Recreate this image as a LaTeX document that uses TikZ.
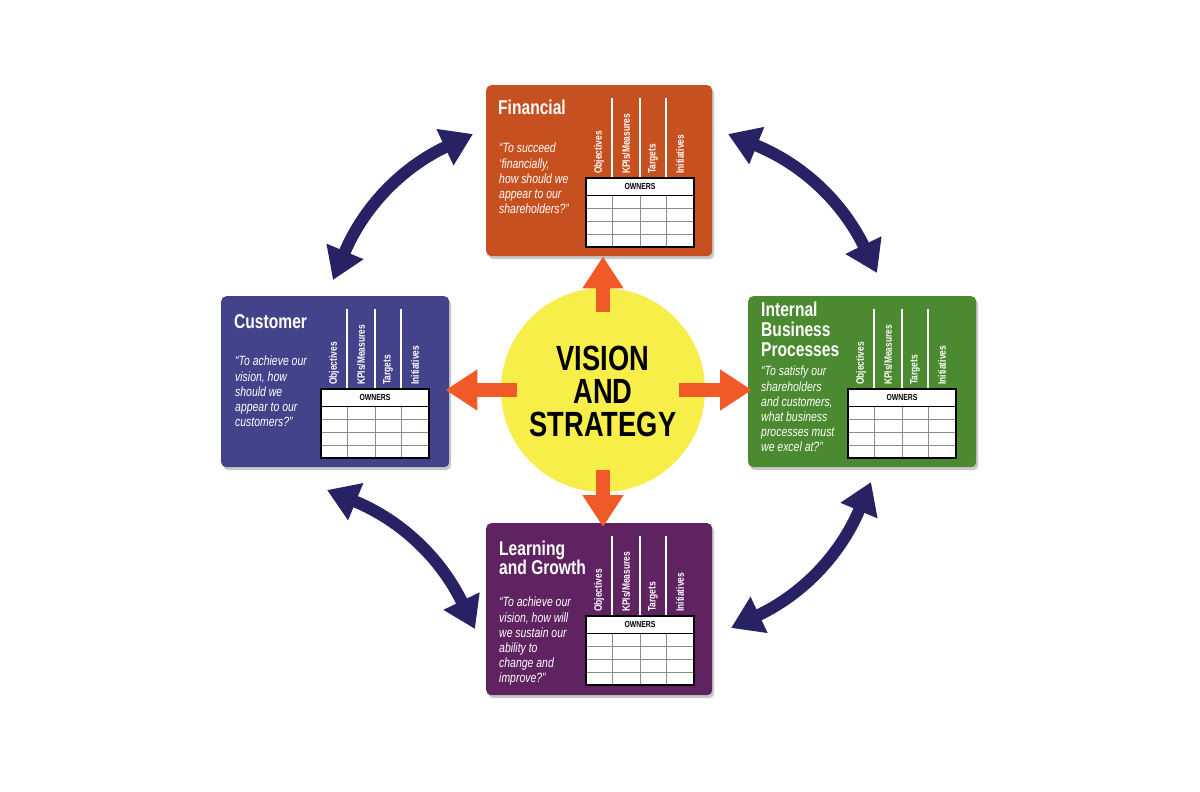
\documentclass[tikz,border=0pt]{standalone}
\usepackage{fontspec}
\newfontfamily\cf[FakeStretch=0.78]{Liberation Sans}
\newfontfamily\cfv[FakeStretch=0.78]{Liberation Sans}
\usetikzlibrary{arrows.meta,shadows,calc}

\definecolor{finC}{HTML}{C6501F}
\definecolor{cusC}{HTML}{43438C}
\definecolor{intC}{HTML}{4B8A31}
\definecolor{lrnC}{HTML}{5E2360}
\definecolor{navyC}{HTML}{262263}
\definecolor{sunC}{HTML}{F7EE4A}
\definecolor{arrC}{HTML}{F05A28}

\tikzset{
  panel/.style={rounded corners=5pt, draw=none, inner sep=0pt, anchor=north west,
    drop shadow={shadow xshift=2pt, shadow yshift=-3pt, opacity=0.3, fill=black!70}},
  ptitle/.style={anchor=north west, inner sep=0pt, align=left, text=white,
    font=\cf\bfseries\fontsize{20}{20}\selectfont},
  pquote/.style={anchor=north west, inner sep=0pt, align=left, text=white,
    font=\cf\itshape\fontsize{13.4}{15.2}\selectfont},
  collabel/.style={rotate=90, anchor=west, inner sep=0pt, text=white,
    font=\cf\bfseries\fontsize{10.8}{11}\selectfont},
  ownerhead/.style={inner sep=0pt, font=\cf\bfseries\fontsize{8.8}{9}\selectfont},
  feed/.style={draw=arrC, line width=14pt, -{Triangle[width=39pt,length=32pt]}},
  link/.style={draw=navyC, line width=12pt,
    {Triangle[width=38pt,length=31pt]}-{Triangle[width=38pt,length=31pt]}},
}

% scorecard grid: column heads, guide lines and the owners table
\newcommand\scoregrid[1]{%
  \draw[white, line width=1.5pt] (126,13) -- (126,93) (154,13) -- (154,93) (180,13) -- (180,93);
  \node[collabel] (#1-obj) at (113,89) {Objectives};
  \node[collabel] (#1-kpi) at (140,89) {KPIs/Measures};
  \node[collabel] (#1-tgt) at (167,89) {Targets};
  \node[collabel] (#1-ini) at (194,89) {Initiatives};
  \fill[white] (100,93) rectangle (208,162);
  \draw[black!45, line width=0.7pt]
    (100,123) -- (208,123) (100,136) -- (208,136) (100,149) -- (208,149)
    (126,110) -- (126,162) (154,110) -- (154,162) (180,110) -- (180,162);
  \draw[black, line width=0.8pt] (100,110) -- (208,110);
  \draw[black, line width=1.8pt] (100,93) rectangle (208,162);
  \node[ownerhead] (#1-own) at (154,101.5) {OWNERS};
}

\begin{document}
\begin{tikzpicture}[x=1pt, y=-1pt]
\useasboundingbox (0,0) rectangle (1200,792);
\fill[white] (0,0) rectangle (1200,792);

% curved links between neighbouring perspectives
\coordinate (tla) at (333,280);
\coordinate (tlb) at (473,134);
\coordinate (tra) at (728,134);
\coordinate (trb) at (877,273);
\coordinate (bra) at (871,482);
\coordinate (brb) at (731,628);
\coordinate (bla) at (327,490);
\coordinate (blb) at (475,629);
\draw[link] (tla) to[bend left=21] (tlb);
\draw[link] (tra) to[bend left=21] (trb);
\draw[link] (bra) to[bend left=21] (brb);
\draw[link] (bla) to[bend left=21] (blb);

% the four perspectives
\node[panel, fill=finC, minimum width=226, minimum height=171] (fin) at (486,85) {};
\node[panel, fill=cusC, minimum width=228, minimum height=171] (cus) at (221,296) {};
\node[panel, fill=intC, minimum width=228, minimum height=171] (int) at (748,296) {};
\node[panel, fill=lrnC, minimum width=226, minimum height=172] (lrn) at (486,523) {};

\node[ptitle] (fin-t) at (498,100) {Financial};
\node[pquote] (fin-q) at (499,143) {“To succeed\\‘financially,\\how should we\\appear to our\\shareholders?”};
\begin{scope}[shift={(486,85)}]\scoregrid{fin}\end{scope}

\node[ptitle] (cus-t) at (234,314) {Customer};
\node[pquote] (cus-q) at (235,356) {“To achieve our\\vision, how\\should we\\appear to our\\customers?”};
\begin{scope}[shift={(221,296)}]\scoregrid{cus}\end{scope}

\node[ptitle] (int-t) at (761,302) {Internal\\Business\\Processes};
\node[pquote] (int-q) at (761,366) {“To satisfy our\\shareholders\\and customers,\\what business\\processes must\\we excel at?”};
\begin{scope}[shift={(748,296)}]\scoregrid{int}\end{scope}

\node[ptitle, font=\cf\bfseries\fontsize{20}{19}\selectfont] (lrn-t) at (499,541) {Learning\\and Growth};
\node[pquote] (lrn-q) at (499,597) {“To achieve our\\vision, how will\\we sustain our\\ability to\\change and\\improve?”};
\begin{scope}[shift={(486,523)}]\scoregrid{lrn}\end{scope}

% centre: vision and strategy
\node[circle, fill=sunC, minimum size=204, inner sep=0pt] (vs) at (603,390) {};
\node[align=center, inner sep=0pt, font=\cfv\bfseries\fontsize{35}{33}\selectfont] (vs-t) at (603,391)
  {VISION\\AND\\STRATEGY};

\draw[feed] ($(vs.north)+(0,24)$) -- (vs.north |- fin.south);
\draw[feed] ($(vs.west)+(16,0)$) -- ($(vs.west -| cus.east)+(-4,0)$);
\draw[feed] ($(vs.east)+(-26,0)$) -- ($(vs.east -| int.west)+(4,0)$);
\draw[feed] ($(vs.south)+(0,-22)$) -- ($(vs.south |- lrn.north)+(0,4)$);
\end{tikzpicture}
\end{document}
